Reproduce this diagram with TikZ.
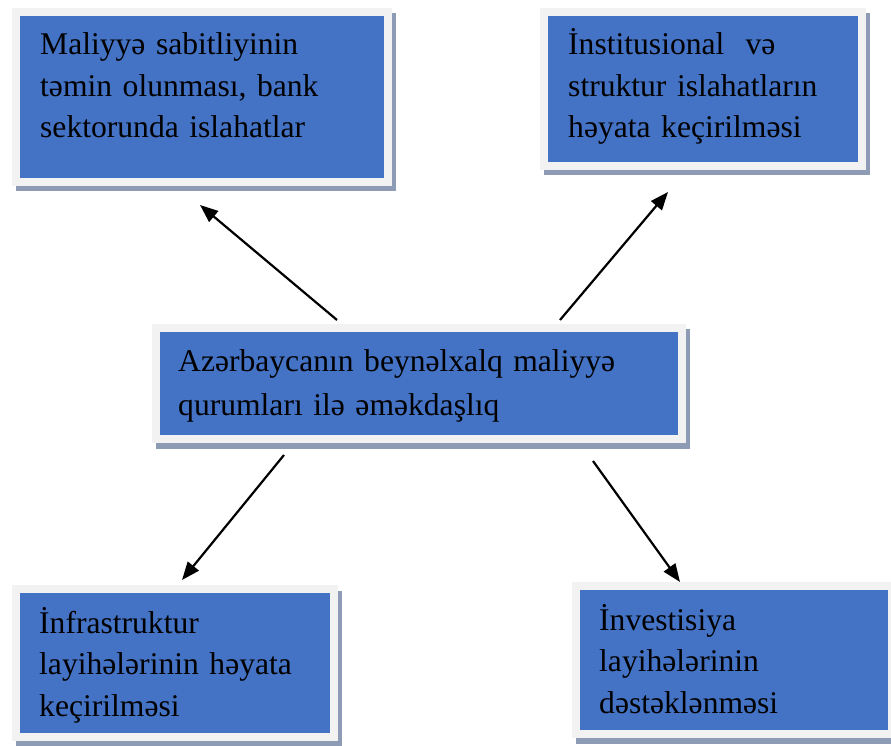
\documentclass[tikz,border=0pt]{standalone}
\usepackage{fontspec}
\setmainfont{Liberation Serif}
\usetikzlibrary{arrows.meta,shadows,calc}

\definecolor{boxblue}{RGB}{68,114,196}
\definecolor{framegray}{RGB}{242,242,242}
\definecolor{shadowgray}{RGB}{142,155,180}

\begin{document}
\begin{tikzpicture}[
      x = 1pt,
      y = 1pt,
      box/.style = {fill=boxblue, draw=framegray, line width=8pt,
        inner sep=0pt, outer sep=0pt,
        drop shadow={shadow xshift=3.5pt, shadow yshift=-5.5pt,
          fill=shadowgray, draw=shadowgray, line width=8pt, opacity=1}},
      txt/.style = {anchor=base west, align=left, inner sep=0pt,
        text width=#1, font=\fontsize{31.6pt}{41.5pt}\selectfont},
      arrow/.style = {line width=2.2pt, -{Triangle[length=18pt,width=14pt]}},
  ]

  \useasboundingbox (0,0) rectangle (891,745);

  % boxes
  \node[box, minimum width=372pt, minimum height=170pt] (maliyye) at (202,648) {};
  \node[box, minimum width=318pt, minimum height=154pt] (instit) at (703,656) {};
  \node[box, minimum width=526pt, minimum height=111pt] (centre) at (419,361.5) {};
  \node[box, minimum width=318pt, minimum height=148pt] (infra) at (175,82) {};
  \node[box, minimum width=316pt, minimum height=148pt] (invest) at (734,85) {};

  % texts
  \node[txt=340pt] (maliyye-t) at (40,690)
    {Maliyyə sabitliyinin\\təmin olunması, bank\\sektorunda islahatlar};
  \node[txt=290pt] (instit-t) at (568,690)
    {İnstitusional\ \ və\\struktur islahatların\\həyata keçirilməsi};
  \node[txt=500pt, font=\fontsize{31.6pt}{44pt}\selectfont] (centre-t) at (178,373)
    {Azərbaycanın beynəlxalq maliyyə\\qurumları ilə əməkdaşlıq};
  \node[txt=290pt] (infra-t) at (39,112)
    {İnfrastruktur\\layihələrinin həyata\\keçirilməsi};
  \node[txt=290pt] (invest-t) at (599,115)
    {İnvestisiya\\layihələrinin\\dəstəklənməsi};

  % arrows
  \draw[arrow] ($(centre.north)+(-82,8)$) -- ($(maliyye.south)+(-2,-23)$);
  \draw[arrow] ($(centre.north)+(141,8)$) -- ($(instit.south)+(-35,-26)$);
  \draw[arrow] ($(centre.south)+(-135,-16)$) -- ($(infra.north)+(7,9)$);
  \draw[arrow] ($(centre.south)+(174,-22)$) -- ($(invest.north)+(-54,4)$);

\end{tikzpicture}
\end{document}
